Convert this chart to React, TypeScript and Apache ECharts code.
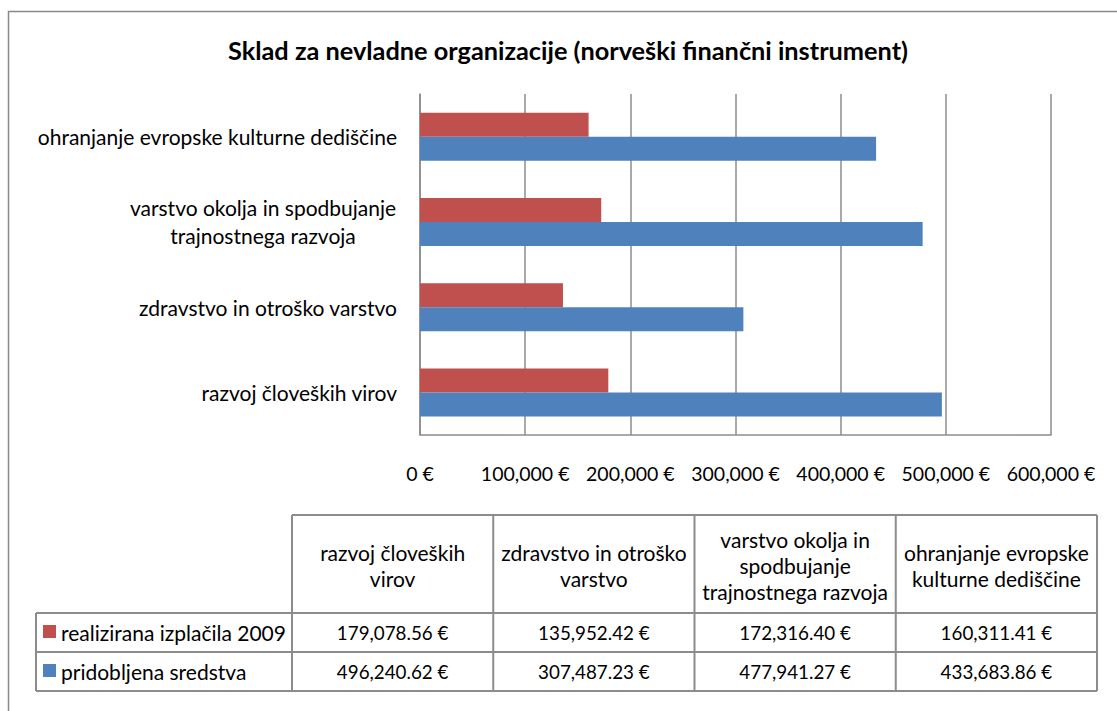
import React, { useEffect, useRef } from 'react';
import * as echarts from 'echarts';

const categories = [
  'razvoj človeških virov',
  'zdravstvo in otroško varstvo',
  'varstvo okolja in spodbujanje trajnostnega razvoja',
  'ohranjanje evropske kulturne dediščine',
];
const axisLabelLines = [
  ['razvoj človeških virov'],
  ['zdravstvo in otroško varstvo'],
  ['varstvo okolja in spodbujanje', 'trajnostnega razvoja'],
  ['ohranjanje evropske kulturne dediščine'],
];
const tableHeaders = [
  'razvoj človeških\nvirov',
  'zdravstvo in otroško\nvarstvo',
  'varstvo okolja in\nspodbujanje\ntrajnostnega razvoja',
  'ohranjanje evropske\nkulturne dediščine',
];
const seriesNames = ['realizirana izplačila 2009', 'pridobljena sredstva'];
const realized = [179078.56, 135952.42, 172316.4, 160311.41];
const obtained = [496240.62, 307487.23, 477941.27, 433683.86];
const xMin = 0;
const xMax = 600000;
const xInterval = 100000;
const titleText = 'Sklad za nevladne organizacije (norveški finančni instrument)';
const colors = ['#C0504D', '#4F81BD'];

const FONT = 'Lato';
const FS_TEXT = 21;
const FS_TICK = 19.5;
const FS_VAL = 18.8;
const LINE = '#8c8c8c';

const fmtMoney = (v: number) =>
  v.toLocaleString('en-US', { minimumFractionDigits: 2, maximumFractionDigits: 2 }) + ' €';
const fmtTick = (v: number) => (v === 0 ? '0 €' : v.toLocaleString('en-US') + ' €');

function measure(text: string, size: number, weight = 'normal') {
  const c = document.createElement('canvas');
  const ctx = c.getContext('2d');
  if (!ctx) return text.length * size * 0.5;
  ctx.font = `${weight} ${size}px ${FONT}`;
  return ctx.measureText(text).width;
}

export default function App() {
  const ref = useRef<HTMLDivElement>(null);
  useEffect(() => {
    document.body.style.margin = '0';
    if (!ref.current) return;
    const chart = echarts.init(ref.current, undefined, { renderer: 'svg' });

    const multiW =
      Math.ceil(Math.max(...axisLabelLines[2].map((t) => measure(t, FS_TEXT)))) + 1;

    // table geometry
    const tLeft = 36;
    const hLeft = 292;
    const tRight = 1097;
    const colW = (tRight - hLeft) / 4;
    const yHead = 515;
    const yRow1 = 613;
    const yRow2 = 652;
    const yBot = 691;
    const rowsY = [yRow1, yRow2, yBot];
    const seriesValues = [realized, obtained];

    const graphics: any[] = [];
    graphics.push({
      type: 'rect',
      shape: { x: 8.5, y: 11.5, width: 1300, height: 900 },
      style: { fill: 'none', stroke: '#898989', lineWidth: 1.5 },
      silent: true,
    });
    graphics.push({
      type: 'text',
      x: 568,
      y: 50,
      style: {
        text: titleText,
        fontFamily: FONT,
        fontWeight: 'bold',
        fontSize: 25.3,
        fill: '#000',
        align: 'center',
        verticalAlign: 'middle',
      },
    });
    graphics.push({
      type: 'line',
      shape: { x1: hLeft, y1: yHead, x2: tRight, y2: yHead },
      style: { stroke: LINE, lineWidth: 2 },
    });
    rowsY.forEach((y) =>
      graphics.push({
        type: 'line',
        shape: { x1: tLeft, y1: y, x2: tRight, y2: y },
        style: { stroke: LINE, lineWidth: 2 },
      })
    );
    graphics.push({
      type: 'line',
      shape: { x1: tLeft, y1: yRow1, x2: tLeft, y2: yBot },
      style: { stroke: LINE, lineWidth: 2 },
    });
    for (let i = 0; i <= 4; i++) {
      const x = hLeft + colW * i;
      graphics.push({
        type: 'line',
        shape: { x1: x, y1: yHead, x2: x, y2: yBot },
        style: { stroke: LINE, lineWidth: 2 },
      });
    }
    tableHeaders.forEach((h, i) => {
      graphics.push({
        type: 'text',
        x: hLeft + colW * (i + 0.5),
        y: (yHead + yRow1) / 2 + 1,
        style: {
          text: h,
          fontFamily: FONT,
          fontSize: FS_TEXT,
          lineHeight: 26,
          fill: '#000',
          align: 'center',
          verticalAlign: 'middle',
        },
      });
    });
    seriesNames.forEach((name, r) => {
      const cy = (rowsY[r] + rowsY[r + 1]) / 2;
      graphics.push({
        type: 'rect',
        shape: { x: 43, y: cy - 7.5, width: 13, height: 13 },
        style: { fill: colors[r] },
      });
      graphics.push({
        type: 'text',
        x: 61,
        y: cy,
        style: {
          text: name,
          fontFamily: FONT,
          fontSize: FS_TEXT,
          fill: '#000',
          align: 'left',
          verticalAlign: 'middle',
        },
      });
      seriesValues[r].forEach((v, i) => {
        graphics.push({
          type: 'text',
          x: hLeft + colW * (i + 0.5),
          y: cy,
          style: {
            text: fmtMoney(v),
            fontFamily: FONT,
            fontSize: FS_VAL,
            fill: '#000',
            align: 'center',
            verticalAlign: 'middle',
          },
        });
      });
    });

    chart.setOption({
      animation: false,
      backgroundColor: '#fff',
      textStyle: { fontFamily: FONT },
      grid: { left: 420, right: 66, top: 94, bottom: 276, containLabel: false },
      xAxis: {
        type: 'value',
        min: xMin,
        max: xMax,
        interval: xInterval,
        axisLine: { show: true, lineStyle: { color: LINE, width: 1.5 } },
        axisTick: { show: false },
        splitLine: { show: true, lineStyle: { color: LINE, width: 1.5 } },
        axisLabel: {
          formatter: fmtTick,
          color: '#000',
          fontFamily: FONT,
          fontSize: FS_TICK,
          margin: 27,
          lineHeight: 22,
        },
      },
      yAxis: {
        type: 'category',
        data: categories,
        axisLine: { show: true, lineStyle: { color: LINE, width: 1.5 } },
        axisTick: { show: false },
        splitLine: { show: false },
        axisLabel: {
          color: '#000',
          fontFamily: FONT,
          fontSize: FS_TEXT,
          margin: 23,
          formatter: (_v: string, idx: number) => {
            const lines = axisLabelLines[idx];
            if (lines.length > 1) return lines.map((l) => `{c|${l}}`).join('\n');
            return lines[0];
          },
          rich: {
            c: {
              width: multiW,
              align: 'center',
              fontFamily: FONT,
              fontSize: FS_TEXT,
              lineHeight: 28,
              color: '#000',
            },
          },
        },
      },
      series: [
        {
          name: seriesNames[0],
          type: 'bar',
          data: realized,
          barWidth: 24,
          barGap: '0%',
          itemStyle: { color: colors[0] },
        },
        {
          name: seriesNames[1],
          type: 'bar',
          data: obtained,
          barWidth: 24,
          barGap: '0%',
          itemStyle: { color: colors[1] },
        },
      ],
      graphic: graphics,
    });
    return () => chart.dispose();
  }, []);
  return <div ref={ref} style={{ width: 1117, height: 711 }} />;
}
